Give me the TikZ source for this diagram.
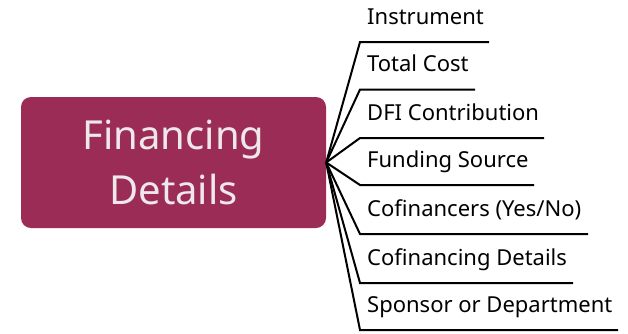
\documentclass[tikz,border=0pt]{standalone}
\usepackage{fontspec}
\setmainfont{Noto Sans}
\definecolor{finred}{HTML}{9B2C55}
\definecolor{fintext}{HTML}{EEE8EA}

\begin{document}
\begin{tikzpicture}[x=1pt,y=-1pt]
\useasboundingbox (0,0) rectangle (628,333);

\node[rectangle, rounded corners=10pt, fill=finred, text=fintext, minimum width=305pt, minimum height=131pt, align=center, font=\fontsize{40}{55}\selectfont] (fin) at (173.5,162.5) {Financing\\Details};

\begin{scope}[every node/.style={anchor=base west, inner sep=0pt, font=\fontsize{22}{26}\selectfont}]

\foreach \y/\xe/\t [count=\i] in {42/489/Instrument, 89.5/475/Total Cost, 138/544/DFI Contribution, 185/534/Funding Source, 234/588/{Cofinancers (Yes/No)}, 283/573/Cofinancing Details, 330/618/Sponsor or Department}
{
    \coordinate (k\i) at (360,\y);
    \coordinate (e\i) at (\xe,\y);
    \node (t\i) at (367,\y-18) {\t};
    \draw[line width=2pt] (fin.east) -- (k\i) -- (e\i);
};
\end{scope}
\end{tikzpicture}
\end{document}
